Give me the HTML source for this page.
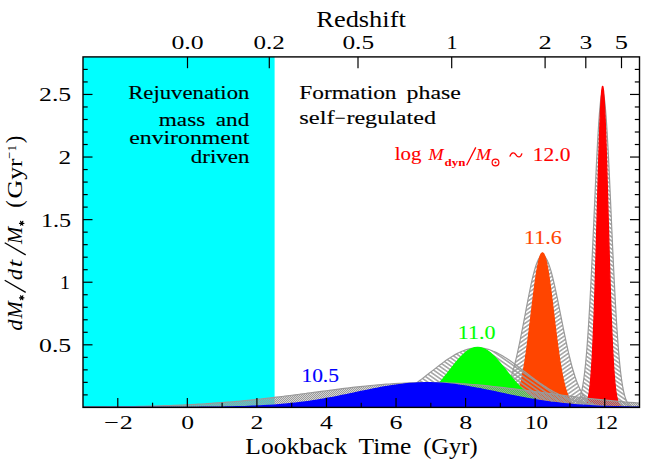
<!DOCTYPE html>
<html><head><meta charset="utf-8"><title>SFH</title>
<style>
html,body{margin:0;padding:0;background:#fff;}
body{width:664px;height:468px;overflow:hidden;font-family:"Liberation Serif",serif;}
svg{display:block;}
</style></head><body>
<svg width="664" height="468" viewBox="0 0 664 468">
<defs>
<pattern id="hA" width="8" height="3.3" patternUnits="userSpaceOnUse" patternTransform="rotate(35)"><line x1="-1" y1="1.65" x2="9" y2="1.65" stroke="#9a9a9a" stroke-width="1.4"/></pattern>
<pattern id="hB" width="8" height="3.3" patternUnits="userSpaceOnUse" patternTransform="rotate(-35)"><line x1="-1" y1="1.65" x2="9" y2="1.65" stroke="#9a9a9a" stroke-width="1.4"/></pattern>
<pattern id="hC" width="2" height="2" patternUnits="userSpaceOnUse"><rect x="0" y="0" width="2" height="2" fill="#9a9a9a" fill-opacity="0.42"/><rect x="0" y="0" width="1" height="1" fill="#9a9a9a"/><rect x="1" y="1" width="1" height="1" fill="#9a9a9a"/></pattern>
<clipPath id="frame"><rect x="83.00" y="56.90" width="556.50" height="350.50"/></clipPath>
</defs>
<rect x="0" y="0" width="664" height="468" fill="#ffffff"/>
<rect x="83.00" y="56.90" width="191.60" height="350.50" fill="#00ffff"/>
<g clip-path="url(#frame)">
<path d="M65.61,407.40 L70.83,407.40 L76.04,407.40 L81.26,407.40 L86.48,407.40 L91.70,407.40 L96.91,407.40 L102.13,407.40 L107.35,407.40 L112.56,407.40 L117.78,407.40 L123.00,407.40 L128.22,407.40 L133.43,407.40 L138.65,407.40 L143.87,407.40 L149.08,407.40 L154.30,407.40 L159.52,407.40 L164.74,407.40 L169.95,407.40 L175.17,407.40 L180.39,407.40 L185.60,407.40 L190.82,407.40 L196.04,407.40 L201.26,407.40 L206.47,407.40 L211.69,407.40 L216.91,407.40 L222.12,407.40 L227.34,407.40 L232.56,407.40 L237.78,407.40 L242.99,407.40 L248.21,407.40 L253.43,407.40 L258.65,407.40 L263.86,407.40 L269.08,407.40 L274.30,407.40 L279.51,407.40 L284.73,407.40 L289.95,407.40 L295.17,407.40 L300.38,407.40 L305.60,407.40 L310.82,407.40 L316.03,407.40 L321.25,407.40 L326.47,407.40 L331.69,407.40 L336.90,407.40 L342.12,407.40 L347.34,407.40 L352.55,407.40 L357.77,407.40 L362.99,407.40 L368.21,407.40 L373.42,407.40 L378.64,407.40 L383.86,407.40 L389.08,407.40 L394.29,407.40 L399.51,407.40 L404.73,407.40 L409.94,407.40 L415.16,407.40 L420.38,407.40 L425.60,407.40 L430.81,407.40 L436.03,407.40 L441.25,407.40 L446.46,407.40 L451.68,407.40 L456.90,407.40 L462.12,407.40 L467.33,407.40 L472.55,407.40 L477.77,407.40 L482.98,407.40 L488.20,407.40 L493.42,407.40 L498.64,407.40 L503.85,407.40 L509.07,407.40 L514.29,407.40 L519.50,407.40 L524.72,407.40 L529.94,407.40 L535.16,407.40 L540.37,407.40 L545.59,407.40 L550.81,407.40 L556.02,407.40 L559.68,407.40 L560.28,407.40 L560.88,407.40 L561.24,407.40 L561.48,407.40 L562.08,407.40 L562.68,407.39 L563.28,407.39 L563.88,407.39 L564.48,407.38 L565.09,407.38 L565.69,407.37 L566.29,407.36 L566.46,407.36 L566.89,407.35 L567.49,407.33 L568.09,407.30 L568.69,407.27 L569.29,407.23 L569.89,407.18 L570.49,407.11 L571.10,407.03 L571.68,406.92 L571.70,406.92 L572.30,406.78 L572.90,406.61 L573.50,406.40 L574.10,406.13 L574.70,405.80 L575.30,405.40 L575.90,404.91 L576.50,404.31 L576.89,403.85 L577.11,403.58 L577.70,402.72 L578.31,401.68 L578.91,400.44 L579.51,398.97 L580.11,397.26 L580.71,395.25 L581.31,392.90 L581.91,390.20 L582.11,389.22 L582.51,387.08 L583.11,383.54 L583.71,379.49 L584.32,374.92 L584.92,369.78 L585.52,364.07 L586.12,357.71 L586.72,350.68 L587.32,342.98 L587.33,342.89 L587.92,334.60 L588.52,325.58 L589.12,315.83 L589.72,305.42 L590.33,294.38 L590.92,282.83 L591.53,270.69 L592.13,258.10 L592.55,249.15 L592.73,245.15 L593.33,231.93 L593.93,218.65 L594.53,205.27 L595.13,192.00 L595.73,178.98 L596.33,166.43 L596.93,154.36 L597.54,142.98 L597.76,138.91 L598.14,132.44 L598.74,122.87 L599.34,114.47 L599.94,107.23 L600.54,101.32 L601.14,96.82 L601.74,93.81 L602.34,92.30 L602.63,92.13 L602.94,92.33 L602.98,92.38 L603.55,93.91 L604.15,97.00 L604.75,101.53 L605.35,107.50 L605.95,114.79 L606.55,123.29 L607.15,132.84 L607.75,143.42 L608.20,151.79 L608.35,154.83 L608.96,166.94 L609.56,179.58 L610.16,192.53 L610.76,205.81 L611.36,219.20 L611.96,232.55 L612.56,245.68 L613.16,258.61 L613.41,263.97 L613.76,271.19 L614.36,283.31 L614.97,294.90 L615.56,305.85 L616.17,316.24 L616.77,325.96 L617.37,335.00 L617.97,343.31 L618.57,350.98 L618.63,351.74 L619.17,357.98 L619.77,364.32 L620.37,370.03 L620.97,375.11 L621.57,379.66 L622.18,383.69 L622.78,387.23 L623.38,390.31 L623.85,392.46 L623.98,393.01 L624.58,395.33 L625.18,397.34 L625.78,399.05 L626.38,400.49 L626.98,401.72 L627.58,402.76 L628.19,403.62 L628.78,404.33 L629.07,404.63 L629.39,404.93 L629.99,405.42 L630.59,405.82 L631.19,406.14 L631.79,406.41 L632.39,406.62 L632.99,406.79 L633.59,406.92 L634.19,407.03 L634.28,407.04 L634.79,407.11 L635.40,407.18 L636.00,407.23 L636.60,407.27 L637.20,407.30 L637.80,407.33 L638.40,407.35 L639.00,407.36 L639.50,407.37 L639.60,407.37 L640.20,407.38 L640.80,407.38 L641.41,407.39 L642.01,407.39 L642.61,407.39 L643.21,407.40 L643.81,407.40 L644.41,407.40 L644.72,407.40 L645.01,407.40 L649.93,407.40 L655.15,407.40 L655.15,409.40 L65.61,409.40 Z" fill="url(#hA)"/>
<path d="M65.61,407.40 L70.83,407.40 L76.04,407.40 L81.26,407.40 L86.48,407.40 L91.70,407.40 L96.91,407.40 L102.13,407.40 L107.35,407.40 L112.56,407.40 L117.78,407.40 L123.00,407.40 L128.22,407.40 L133.43,407.40 L138.65,407.40 L143.87,407.40 L149.08,407.40 L154.30,407.40 L159.52,407.40 L164.74,407.40 L169.95,407.40 L175.17,407.40 L180.39,407.40 L185.60,407.40 L190.82,407.40 L196.04,407.40 L201.26,407.40 L206.47,407.40 L211.69,407.40 L216.91,407.40 L222.12,407.40 L227.34,407.40 L232.56,407.40 L237.78,407.40 L242.99,407.40 L248.21,407.40 L253.43,407.40 L258.65,407.40 L263.86,407.40 L269.08,407.40 L274.30,407.40 L279.51,407.40 L284.73,407.40 L289.95,407.40 L295.17,407.40 L300.38,407.40 L305.60,407.40 L310.82,407.40 L316.03,407.40 L321.25,407.40 L326.47,407.40 L331.69,407.40 L336.90,407.40 L342.12,407.40 L347.34,407.40 L352.55,407.40 L357.77,407.40 L362.99,407.40 L368.21,407.40 L373.42,407.40 L378.64,407.40 L383.86,407.40 L389.08,407.40 L394.29,407.40 L399.51,407.40 L404.73,407.40 L409.94,407.40 L415.16,407.40 L420.38,407.40 L425.60,407.40 L430.81,407.40 L436.03,407.40 L441.25,407.40 L446.46,407.40 L451.68,407.40 L456.90,407.40 L462.12,407.40 L467.33,407.40 L472.55,407.40 L477.77,407.40 L482.98,407.40 L488.20,407.40 L493.42,407.40 L498.64,407.40 L503.85,407.40 L509.07,407.40 L514.29,407.40 L519.50,407.40 L524.72,407.40 L529.94,407.40 L535.16,407.40 L540.37,407.40 L545.59,407.40 L550.81,407.40 L556.02,407.40 L559.68,407.40 L560.28,407.40 L560.88,407.40 L561.24,407.40 L561.48,407.40 L562.08,407.40 L562.68,407.39 L563.28,407.39 L563.88,407.39 L564.48,407.38 L565.09,407.38 L565.69,407.37 L566.29,407.36 L566.46,407.36 L566.89,407.35 L567.49,407.33 L568.09,407.30 L568.69,407.27 L569.29,407.23 L569.89,407.18 L570.49,407.11 L571.10,407.03 L571.68,406.92 L571.70,406.92 L572.30,406.78 L572.90,406.61 L573.50,406.40 L574.10,406.13 L574.70,405.80 L575.30,405.40 L575.90,404.91 L576.50,404.31 L576.89,403.85 L577.11,403.58 L577.70,402.72 L578.31,401.68 L578.91,400.44 L579.51,398.97 L580.11,397.26 L580.71,395.25 L581.31,392.90 L581.91,390.20 L582.11,389.22 L582.51,387.08 L583.11,383.54 L583.71,379.49 L584.32,374.92 L584.92,369.78 L585.52,364.07 L586.12,357.71 L586.72,350.68 L587.32,342.98 L587.33,342.89 L587.92,334.60 L588.52,325.58 L589.12,315.83 L589.72,305.42 L590.33,294.38 L590.92,282.83 L591.53,270.69 L592.13,258.10 L592.55,249.15 L592.73,245.15 L593.33,231.93 L593.93,218.65 L594.53,205.27 L595.13,192.00 L595.73,178.98 L596.33,166.43 L596.93,154.36 L597.54,142.98 L597.76,138.91 L598.14,132.44 L598.74,122.87 L599.34,114.47 L599.94,107.23 L600.54,101.32 L601.14,96.82 L601.74,93.81 L602.34,92.30 L602.63,92.13 L602.94,92.33 L602.98,92.38 L603.55,93.91 L604.15,97.00 L604.75,101.53 L605.35,107.50 L605.95,114.79 L606.55,123.29 L607.15,132.84 L607.75,143.42 L608.20,151.79 L608.35,154.83 L608.96,166.94 L609.56,179.58 L610.16,192.53 L610.76,205.81 L611.36,219.20 L611.96,232.55 L612.56,245.68 L613.16,258.61 L613.41,263.97 L613.76,271.19 L614.36,283.31 L614.97,294.90 L615.56,305.85 L616.17,316.24 L616.77,325.96 L617.37,335.00 L617.97,343.31 L618.57,350.98 L618.63,351.74 L619.17,357.98 L619.77,364.32 L620.37,370.03 L620.97,375.11 L621.57,379.66 L622.18,383.69 L622.78,387.23 L623.38,390.31 L623.85,392.46 L623.98,393.01 L624.58,395.33 L625.18,397.34 L625.78,399.05 L626.38,400.49 L626.98,401.72 L627.58,402.76 L628.19,403.62 L628.78,404.33 L629.07,404.63 L629.39,404.93 L629.99,405.42 L630.59,405.82 L631.19,406.14 L631.79,406.41 L632.39,406.62 L632.99,406.79 L633.59,406.92 L634.19,407.03 L634.28,407.04 L634.79,407.11 L635.40,407.18 L636.00,407.23 L636.60,407.27 L637.20,407.30 L637.80,407.33 L638.40,407.35 L639.00,407.36 L639.50,407.37 L639.60,407.37 L640.20,407.38 L640.80,407.38 L641.41,407.39 L642.01,407.39 L642.61,407.39 L643.21,407.40 L643.81,407.40 L644.41,407.40 L644.72,407.40 L645.01,407.40 L649.93,407.40 L655.15,407.40" fill="none" stroke="#9a9a9a" stroke-width="1.2" stroke-linejoin="round"/>
<path d="M65.61,407.40 L70.83,407.40 L76.04,407.40 L81.26,407.40 L86.48,407.40 L91.70,407.40 L96.91,407.40 L102.13,407.40 L107.35,407.40 L112.56,407.40 L117.78,407.40 L123.00,407.40 L128.22,407.40 L133.43,407.40 L138.65,407.40 L143.87,407.40 L149.08,407.40 L154.30,407.40 L159.52,407.40 L164.74,407.40 L169.95,407.40 L175.17,407.40 L180.39,407.40 L185.60,407.40 L190.82,407.40 L196.04,407.40 L201.26,407.40 L206.47,407.40 L211.69,407.40 L216.91,407.40 L222.12,407.40 L227.34,407.40 L232.56,407.40 L237.78,407.40 L242.99,407.40 L248.21,407.40 L253.43,407.40 L258.65,407.40 L263.86,407.40 L269.08,407.40 L274.30,407.40 L279.51,407.40 L284.73,407.40 L289.95,407.40 L295.17,407.40 L300.38,407.40 L305.60,407.40 L310.82,407.40 L316.03,407.40 L321.25,407.40 L326.47,407.40 L331.69,407.40 L336.90,407.40 L342.12,407.40 L347.34,407.40 L352.55,407.40 L357.77,407.40 L362.99,407.40 L368.21,407.40 L373.42,407.40 L378.64,407.40 L383.86,407.40 L389.08,407.40 L394.29,407.40 L399.51,407.40 L404.73,407.40 L409.94,407.40 L415.16,407.40 L420.38,407.40 L425.60,407.40 L430.81,407.40 L436.03,407.40 L441.25,407.40 L446.46,407.40 L451.68,407.40 L456.90,407.40 L462.12,407.40 L467.33,407.40 L472.55,407.40 L477.77,407.40 L482.98,407.40 L488.20,407.40 L493.42,407.40 L498.64,407.40 L503.85,407.40 L509.07,407.40 L514.29,407.40 L519.50,407.40 L524.72,407.40 L529.94,407.40 L535.16,407.40 L540.37,407.40 L545.59,407.40 L550.81,407.40 L556.02,407.40 L559.68,407.40 L560.28,407.40 L560.88,407.40 L561.24,407.40 L561.48,407.40 L562.08,407.40 L562.68,407.40 L563.28,407.40 L563.88,407.40 L564.48,407.40 L565.09,407.40 L565.69,407.40 L566.29,407.40 L566.46,407.40 L566.89,407.40 L567.49,407.40 L568.09,407.40 L568.69,407.40 L569.29,407.40 L569.89,407.40 L570.49,407.40 L571.10,407.40 L571.68,407.40 L571.70,407.40 L572.30,407.40 L572.90,407.40 L573.50,407.40 L574.10,407.40 L574.70,407.40 L575.30,407.40 L575.90,407.40 L576.50,407.40 L576.89,407.40 L577.11,407.40 L577.70,407.39 L578.31,407.39 L578.91,407.38 L579.51,407.37 L580.11,407.34 L580.71,407.31 L581.31,407.26 L581.91,407.19 L582.11,407.16 L582.51,407.08 L583.11,406.92 L583.71,406.69 L584.32,406.36 L584.92,405.90 L585.52,405.25 L586.12,404.37 L586.72,403.16 L587.32,401.56 L587.33,401.54 L587.92,399.45 L588.52,396.72 L589.12,393.21 L589.72,388.78 L590.33,383.27 L590.92,376.56 L591.53,368.40 L592.13,358.70 L592.55,350.99 L592.73,347.32 L593.33,334.20 L593.93,319.41 L594.53,302.81 L595.13,284.61 L595.73,265.01 L596.33,244.44 L596.93,223.04 L597.54,201.39 L597.76,193.31 L598.14,180.04 L598.74,159.56 L599.34,140.66 L599.94,123.73 L600.54,109.42 L601.14,98.25 L601.74,90.64 L602.34,86.77 L602.63,86.32 L602.94,86.85 L602.98,86.98 L603.55,90.88 L604.15,98.69 L604.75,109.95 L605.35,124.36 L605.95,141.40 L606.55,160.48 L607.15,180.89 L607.75,202.27 L608.20,218.29 L608.35,223.91 L608.96,245.29 L609.56,265.94 L610.16,285.37 L610.76,303.51 L611.36,320.04 L611.96,334.85 L612.56,347.81 L613.16,359.12 L613.41,363.38 L613.76,368.76 L614.36,376.86 L614.97,383.55 L615.56,388.98 L616.17,393.37 L616.77,396.85 L617.37,399.56 L617.97,401.63 L618.57,403.22 L618.63,403.36 L619.17,404.41 L619.77,405.28 L620.37,405.92 L620.97,406.38 L621.57,406.70 L622.18,406.93 L622.78,407.09 L623.38,407.19 L623.85,407.25 L623.98,407.27 L624.58,407.31 L625.18,407.35 L625.78,407.37 L626.38,407.38 L626.98,407.39 L627.58,407.39 L628.19,407.40 L628.78,407.40 L629.07,407.40 L629.39,407.40 L629.99,407.40 L630.59,407.40 L631.19,407.40 L631.79,407.40 L632.39,407.40 L632.99,407.40 L633.59,407.40 L634.19,407.40 L634.28,407.40 L634.79,407.40 L635.40,407.40 L636.00,407.40 L636.60,407.40 L637.20,407.40 L637.80,407.40 L638.40,407.40 L639.00,407.40 L639.50,407.40 L639.60,407.40 L640.20,407.40 L640.80,407.40 L641.41,407.40 L642.01,407.40 L642.61,407.40 L643.21,407.40 L643.81,407.40 L644.41,407.40 L644.72,407.40 L645.01,407.40 L649.93,407.40 L655.15,407.40 L655.15,409.40 L65.61,409.40 Z" fill="#ff0000" stroke="#ff0000" stroke-width="1.3" stroke-linejoin="round"/>
<path d="M65.61,407.40 L70.83,407.40 L76.04,407.40 L81.26,407.40 L86.48,407.40 L91.70,407.40 L96.91,407.40 L102.13,407.40 L107.35,407.40 L112.56,407.40 L117.78,407.40 L123.00,407.40 L128.22,407.40 L133.43,407.40 L138.65,407.40 L143.87,407.40 L149.08,407.40 L154.30,407.40 L159.52,407.40 L164.74,407.40 L169.95,407.40 L175.17,407.40 L180.39,407.40 L185.60,407.40 L190.82,407.40 L196.04,407.40 L201.26,407.40 L206.47,407.40 L211.69,407.40 L216.91,407.40 L222.12,407.40 L227.34,407.40 L232.56,407.40 L237.78,407.40 L242.99,407.40 L248.21,407.40 L253.43,407.40 L258.65,407.40 L263.86,407.40 L269.08,407.40 L274.30,407.40 L279.51,407.40 L284.73,407.40 L289.95,407.40 L295.17,407.40 L300.38,407.40 L305.60,407.40 L310.82,407.40 L316.03,407.40 L321.25,407.40 L326.47,407.40 L331.69,407.40 L336.90,407.40 L342.12,407.40 L347.34,407.40 L352.55,407.40 L357.77,407.40 L362.99,407.40 L368.21,407.40 L373.42,407.40 L378.64,407.40 L383.86,407.40 L389.08,407.40 L394.29,407.40 L399.51,407.40 L404.73,407.40 L409.94,407.40 L415.16,407.40 L420.38,407.40 L425.60,407.40 L430.81,407.40 L436.03,407.40 L441.25,407.40 L446.46,407.40 L451.33,407.40 L451.68,407.40 L452.58,407.40 L453.83,407.40 L455.08,407.40 L456.33,407.40 L456.90,407.40 L457.57,407.40 L458.82,407.40 L460.07,407.40 L461.32,407.40 L462.12,407.40 L462.57,407.40 L463.82,407.39 L465.07,407.39 L466.31,407.39 L467.33,407.39 L467.56,407.38 L468.81,407.38 L470.06,407.37 L471.30,407.36 L472.55,407.35 L472.55,407.35 L473.80,407.33 L475.05,407.31 L476.30,407.28 L477.55,407.25 L477.77,407.24 L478.80,407.20 L480.04,407.14 L481.29,407.07 L482.54,406.98 L482.98,406.94 L483.79,406.86 L485.04,406.72 L486.29,406.54 L487.53,406.32 L488.20,406.18 L488.78,406.05 L490.03,405.72 L491.28,405.33 L492.52,404.85 L493.42,404.46 L493.77,404.28 L495.02,403.60 L496.27,402.80 L497.52,401.86 L498.64,400.88 L498.77,400.76 L500.02,399.47 L501.27,397.99 L502.51,396.30 L503.76,394.36 L503.85,394.20 L505.01,392.16 L506.26,389.68 L507.51,386.90 L508.75,383.80 L509.07,382.96 L510.00,380.37 L511.25,376.61 L512.50,372.50 L513.74,368.06 L514.29,366.02 L514.99,363.26 L516.24,358.13 L517.49,352.69 L518.74,346.95 L519.50,343.30 L519.99,340.95 L521.24,334.73 L522.49,328.34 L523.73,321.81 L524.72,316.61 L524.98,315.25 L526.23,308.66 L527.48,302.14 L528.73,295.76 L529.94,289.77 L529.97,289.61 L531.22,283.74 L532.47,278.25 L533.72,273.20 L534.97,268.66 L535.16,268.03 L536.21,264.71 L537.46,261.39 L538.71,258.75 L539.96,256.84 L540.37,256.37 L541.21,255.67 L542.46,255.28 L542.46,255.28 L543.71,255.64 L544.95,256.70 L545.59,257.51 L546.20,258.46 L547.45,260.87 L548.70,263.93 L549.95,267.59 L550.81,270.43 L551.19,271.78 L552.44,276.47 L553.69,281.59 L554.94,287.07 L556.02,292.08 L556.19,292.86 L557.44,298.87 L558.68,305.04 L559.93,311.32 L561.18,317.64 L561.24,317.95 L562.43,323.93 L563.68,330.15 L564.93,336.24 L566.17,342.15 L566.46,343.48 L567.42,347.86 L568.67,353.32 L569.92,358.49 L571.17,363.39 L571.68,365.31 L572.41,367.99 L573.66,372.27 L574.91,376.23 L576.16,379.87 L576.89,381.87 L577.41,383.21 L578.66,386.23 L579.91,388.97 L581.15,391.42 L582.11,393.13 L582.40,393.62 L583.65,395.57 L584.90,397.29 L586.15,398.80 L587.33,400.05 L587.39,400.12 L588.64,401.26 L589.89,402.25 L591.14,403.10 L592.39,403.83 L592.55,403.91 L593.63,404.45 L594.88,404.97 L596.13,405.41 L597.38,405.78 L597.76,405.88 L598.63,406.08 L599.88,406.34 L601.13,406.54 L602.37,406.72 L602.98,406.79 L603.62,406.85 L604.87,406.97 L606.12,407.06 L607.37,407.13 L608.20,407.17 L608.61,407.19 L609.86,407.24 L611.11,407.27 L612.36,407.30 L613.41,407.32 L613.61,407.33 L614.85,407.34 L616.10,407.36 L617.35,407.37 L618.60,407.38 L618.63,407.38 L619.85,407.38 L621.10,407.39 L622.35,407.39 L623.59,407.39 L623.85,407.39 L624.84,407.39 L626.09,407.40 L627.34,407.40 L628.59,407.40 L629.07,407.40 L629.83,407.40 L631.08,407.40 L632.33,407.40 L633.58,407.40 L634.28,407.40 L639.50,407.40 L644.72,407.40 L649.93,407.40 L655.15,407.40 L655.15,409.40 L65.61,409.40 Z" fill="url(#hB)"/>
<path d="M65.61,407.40 L70.83,407.40 L76.04,407.40 L81.26,407.40 L86.48,407.40 L91.70,407.40 L96.91,407.40 L102.13,407.40 L107.35,407.40 L112.56,407.40 L117.78,407.40 L123.00,407.40 L128.22,407.40 L133.43,407.40 L138.65,407.40 L143.87,407.40 L149.08,407.40 L154.30,407.40 L159.52,407.40 L164.74,407.40 L169.95,407.40 L175.17,407.40 L180.39,407.40 L185.60,407.40 L190.82,407.40 L196.04,407.40 L201.26,407.40 L206.47,407.40 L211.69,407.40 L216.91,407.40 L222.12,407.40 L227.34,407.40 L232.56,407.40 L237.78,407.40 L242.99,407.40 L248.21,407.40 L253.43,407.40 L258.65,407.40 L263.86,407.40 L269.08,407.40 L274.30,407.40 L279.51,407.40 L284.73,407.40 L289.95,407.40 L295.17,407.40 L300.38,407.40 L305.60,407.40 L310.82,407.40 L316.03,407.40 L321.25,407.40 L326.47,407.40 L331.69,407.40 L336.90,407.40 L342.12,407.40 L347.34,407.40 L352.55,407.40 L357.77,407.40 L362.99,407.40 L368.21,407.40 L373.42,407.40 L378.64,407.40 L383.86,407.40 L389.08,407.40 L394.29,407.40 L399.51,407.40 L404.73,407.40 L409.94,407.40 L415.16,407.40 L420.38,407.40 L425.60,407.40 L430.81,407.40 L436.03,407.40 L441.25,407.40 L446.46,407.40 L451.33,407.40 L451.68,407.40 L452.58,407.40 L453.83,407.40 L455.08,407.40 L456.33,407.40 L456.90,407.40 L457.57,407.40 L458.82,407.40 L460.07,407.40 L461.32,407.40 L462.12,407.40 L462.57,407.40 L463.82,407.39 L465.07,407.39 L466.31,407.39 L467.33,407.39 L467.56,407.38 L468.81,407.38 L470.06,407.37 L471.30,407.36 L472.55,407.35 L472.55,407.35 L473.80,407.33 L475.05,407.31 L476.30,407.28 L477.55,407.25 L477.77,407.24 L478.80,407.20 L480.04,407.14 L481.29,407.07 L482.54,406.98 L482.98,406.94 L483.79,406.86 L485.04,406.72 L486.29,406.54 L487.53,406.32 L488.20,406.18 L488.78,406.05 L490.03,405.72 L491.28,405.33 L492.52,404.85 L493.42,404.46 L493.77,404.28 L495.02,403.60 L496.27,402.80 L497.52,401.86 L498.64,400.88 L498.77,400.76 L500.02,399.47 L501.27,397.99 L502.51,396.30 L503.76,394.36 L503.85,394.20 L505.01,392.16 L506.26,389.68 L507.51,386.90 L508.75,383.80 L509.07,382.96 L510.00,380.37 L511.25,376.61 L512.50,372.50 L513.74,368.06 L514.29,366.02 L514.99,363.26 L516.24,358.13 L517.49,352.69 L518.74,346.95 L519.50,343.30 L519.99,340.95 L521.24,334.73 L522.49,328.34 L523.73,321.81 L524.72,316.61 L524.98,315.25 L526.23,308.66 L527.48,302.14 L528.73,295.76 L529.94,289.77 L529.97,289.61 L531.22,283.74 L532.47,278.25 L533.72,273.20 L534.97,268.66 L535.16,268.03 L536.21,264.71 L537.46,261.39 L538.71,258.75 L539.96,256.84 L540.37,256.37 L541.21,255.67 L542.46,255.28 L542.46,255.28 L543.71,255.64 L544.95,256.70 L545.59,257.51 L546.20,258.46 L547.45,260.87 L548.70,263.93 L549.95,267.59 L550.81,270.43 L551.19,271.78 L552.44,276.47 L553.69,281.59 L554.94,287.07 L556.02,292.08 L556.19,292.86 L557.44,298.87 L558.68,305.04 L559.93,311.32 L561.18,317.64 L561.24,317.95 L562.43,323.93 L563.68,330.15 L564.93,336.24 L566.17,342.15 L566.46,343.48 L567.42,347.86 L568.67,353.32 L569.92,358.49 L571.17,363.39 L571.68,365.31 L572.41,367.99 L573.66,372.27 L574.91,376.23 L576.16,379.87 L576.89,381.87 L577.41,383.21 L578.66,386.23 L579.91,388.97 L581.15,391.42 L582.11,393.13 L582.40,393.62 L583.65,395.57 L584.90,397.29 L586.15,398.80 L587.33,400.05 L587.39,400.12 L588.64,401.26 L589.89,402.25 L591.14,403.10 L592.39,403.83 L592.55,403.91 L593.63,404.45 L594.88,404.97 L596.13,405.41 L597.38,405.78 L597.76,405.88 L598.63,406.08 L599.88,406.34 L601.13,406.54 L602.37,406.72 L602.98,406.79 L603.62,406.85 L604.87,406.97 L606.12,407.06 L607.37,407.13 L608.20,407.17 L608.61,407.19 L609.86,407.24 L611.11,407.27 L612.36,407.30 L613.41,407.32 L613.61,407.33 L614.85,407.34 L616.10,407.36 L617.35,407.37 L618.60,407.38 L618.63,407.38 L619.85,407.38 L621.10,407.39 L622.35,407.39 L623.59,407.39 L623.85,407.39 L624.84,407.39 L626.09,407.40 L627.34,407.40 L628.59,407.40 L629.07,407.40 L629.83,407.40 L631.08,407.40 L632.33,407.40 L633.58,407.40 L634.28,407.40 L639.50,407.40 L644.72,407.40 L649.93,407.40 L655.15,407.40" fill="none" stroke="#9a9a9a" stroke-width="1.2" stroke-linejoin="round"/>
<path d="M65.61,407.40 L70.83,407.40 L76.04,407.40 L81.26,407.40 L86.48,407.40 L91.70,407.40 L96.91,407.40 L102.13,407.40 L107.35,407.40 L112.56,407.40 L117.78,407.40 L123.00,407.40 L128.22,407.40 L133.43,407.40 L138.65,407.40 L143.87,407.40 L149.08,407.40 L154.30,407.40 L159.52,407.40 L164.74,407.40 L169.95,407.40 L175.17,407.40 L180.39,407.40 L185.60,407.40 L190.82,407.40 L196.04,407.40 L201.26,407.40 L206.47,407.40 L211.69,407.40 L216.91,407.40 L222.12,407.40 L227.34,407.40 L232.56,407.40 L237.78,407.40 L242.99,407.40 L248.21,407.40 L253.43,407.40 L258.65,407.40 L263.86,407.40 L269.08,407.40 L274.30,407.40 L279.51,407.40 L284.73,407.40 L289.95,407.40 L295.17,407.40 L300.38,407.40 L305.60,407.40 L310.82,407.40 L316.03,407.40 L321.25,407.40 L326.47,407.40 L331.69,407.40 L336.90,407.40 L342.12,407.40 L347.34,407.40 L352.55,407.40 L357.77,407.40 L362.99,407.40 L368.21,407.40 L373.42,407.40 L378.64,407.40 L383.86,407.40 L389.08,407.40 L394.29,407.40 L399.51,407.40 L404.73,407.40 L409.94,407.40 L415.16,407.40 L420.38,407.40 L425.60,407.40 L430.81,407.40 L436.03,407.40 L441.25,407.40 L446.46,407.40 L451.33,407.40 L451.68,407.40 L452.58,407.40 L453.83,407.40 L455.08,407.40 L456.33,407.40 L456.90,407.40 L457.57,407.40 L458.82,407.40 L460.07,407.40 L461.32,407.40 L462.12,407.40 L462.57,407.40 L463.82,407.40 L465.07,407.40 L466.31,407.40 L467.33,407.40 L467.56,407.40 L468.81,407.40 L470.06,407.40 L471.30,407.40 L472.55,407.40 L472.55,407.40 L473.80,407.40 L475.05,407.40 L476.30,407.40 L477.55,407.40 L477.77,407.40 L478.80,407.40 L480.04,407.40 L481.29,407.40 L482.54,407.40 L482.98,407.40 L483.79,407.40 L485.04,407.40 L486.29,407.40 L487.53,407.40 L488.20,407.40 L488.78,407.40 L490.03,407.40 L491.28,407.40 L492.52,407.39 L493.42,407.39 L493.77,407.39 L495.02,407.38 L496.27,407.37 L497.52,407.35 L498.64,407.32 L498.77,407.32 L500.02,407.28 L501.27,407.21 L502.51,407.12 L503.76,406.99 L503.85,406.98 L505.01,406.80 L506.26,406.54 L507.51,406.18 L508.75,405.68 L509.07,405.53 L510.00,405.02 L511.25,404.14 L512.50,402.99 L513.74,401.50 L514.29,400.74 L514.99,399.62 L516.24,397.25 L517.49,394.32 L518.74,390.76 L519.50,388.23 L519.99,386.49 L521.24,381.45 L522.49,375.58 L523.73,368.86 L524.72,362.95 L524.98,361.33 L526.23,352.97 L527.48,343.88 L528.73,334.18 L529.94,324.33 L529.97,324.04 L531.22,313.66 L532.47,303.28 L533.72,293.18 L534.97,283.63 L535.16,282.26 L536.21,274.95 L537.46,267.37 L538.71,261.18 L539.96,256.59 L540.37,255.45 L541.21,253.76 L542.46,252.80 L542.46,252.80 L543.71,253.75 L544.95,256.57 L545.59,258.69 L546.20,261.15 L547.45,267.31 L548.70,274.88 L549.95,283.58 L550.81,290.10 L551.19,293.12 L552.44,303.23 L553.69,313.60 L554.94,323.98 L556.02,332.82 L556.19,334.13 L557.44,343.83 L558.68,352.89 L559.93,361.26 L561.18,368.82 L561.24,369.18 L562.43,375.54 L563.68,381.42 L564.93,386.46 L566.17,390.74 L566.46,391.61 L567.42,394.31 L568.67,397.23 L569.92,399.60 L571.17,401.49 L571.68,402.14 L572.41,402.98 L573.66,404.13 L574.91,405.02 L576.16,405.68 L576.89,405.99 L577.41,406.18 L578.66,406.54 L579.91,406.80 L581.15,406.99 L582.11,407.10 L582.40,407.12 L583.65,407.21 L584.90,407.28 L586.15,407.32 L587.33,407.35 L587.39,407.35 L588.64,407.37 L589.89,407.38 L591.14,407.39 L592.39,407.39 L592.55,407.39 L593.63,407.40 L594.88,407.40 L596.13,407.40 L597.38,407.40 L597.76,407.40 L598.63,407.40 L599.88,407.40 L601.13,407.40 L602.37,407.40 L602.98,407.40 L603.62,407.40 L604.87,407.40 L606.12,407.40 L607.37,407.40 L608.20,407.40 L608.61,407.40 L609.86,407.40 L611.11,407.40 L612.36,407.40 L613.41,407.40 L613.61,407.40 L614.85,407.40 L616.10,407.40 L617.35,407.40 L618.60,407.40 L618.63,407.40 L619.85,407.40 L621.10,407.40 L622.35,407.40 L623.59,407.40 L623.85,407.40 L624.84,407.40 L626.09,407.40 L627.34,407.40 L628.59,407.40 L629.07,407.40 L629.83,407.40 L631.08,407.40 L632.33,407.40 L633.58,407.40 L634.28,407.40 L639.50,407.40 L644.72,407.40 L649.93,407.40 L655.15,407.40 L655.15,409.40 L65.61,409.40 Z" fill="#ff4500" stroke="#ff4500" stroke-width="1.3" stroke-linejoin="round"/>
<path d="M65.61,407.40 L70.83,407.40 L76.04,407.40 L81.26,407.40 L86.48,407.40 L91.70,407.40 L96.91,407.40 L102.13,407.40 L107.35,407.40 L112.56,407.40 L117.78,407.40 L123.00,407.40 L128.22,407.40 L133.43,407.40 L138.65,407.40 L143.87,407.40 L149.08,407.40 L154.30,407.40 L159.52,407.40 L164.74,407.40 L169.95,407.40 L175.17,407.40 L180.39,407.40 L185.60,407.40 L190.82,407.40 L196.04,407.40 L201.26,407.40 L206.47,407.40 L211.69,407.40 L216.91,407.40 L222.12,407.40 L227.34,407.40 L232.56,407.40 L237.78,407.40 L242.99,407.40 L244.56,407.40 L247.71,407.40 L248.21,407.40 L250.86,407.40 L253.43,407.40 L254.01,407.40 L257.16,407.40 L258.65,407.40 L260.31,407.40 L263.46,407.40 L263.86,407.40 L266.61,407.40 L269.08,407.40 L269.75,407.40 L272.91,407.40 L274.30,407.40 L276.06,407.40 L279.20,407.39 L279.51,407.39 L282.36,407.39 L284.73,407.39 L285.50,407.39 L288.65,407.39 L289.95,407.39 L291.80,407.38 L294.95,407.38 L295.17,407.38 L298.10,407.37 L300.38,407.37 L301.25,407.36 L304.40,407.35 L305.60,407.35 L307.55,407.34 L310.70,407.32 L310.82,407.32 L313.85,407.30 L316.03,407.28 L317.00,407.27 L320.15,407.23 L321.25,407.22 L323.30,407.19 L326.45,407.14 L326.47,407.14 L329.60,407.07 L331.69,407.02 L332.75,406.99 L335.90,406.89 L336.90,406.86 L339.05,406.77 L342.12,406.63 L342.20,406.63 L345.35,406.46 L347.34,406.34 L348.50,406.26 L351.65,406.02 L352.55,405.94 L354.79,405.74 L357.77,405.43 L357.95,405.41 L361.10,405.02 L362.99,404.76 L364.24,404.58 L367.40,404.06 L368.21,403.92 L370.54,403.47 L373.42,402.86 L373.69,402.80 L376.84,402.04 L378.64,401.57 L379.99,401.19 L383.14,400.23 L383.86,400.00 L386.29,399.16 L389.08,398.13 L389.44,397.98 L392.59,396.68 L394.29,395.93 L395.74,395.26 L398.89,393.71 L399.51,393.39 L402.04,392.04 L404.73,390.51 L405.19,390.24 L408.34,388.33 L409.94,387.31 L411.49,386.30 L414.64,384.16 L415.16,383.80 L417.79,381.93 L420.38,380.03 L420.94,379.61 L424.09,377.23 L425.60,376.07 L427.24,374.80 L430.39,372.33 L430.81,372.00 L433.54,369.86 L436.03,367.91 L436.69,367.39 L439.83,364.97 L441.25,363.91 L442.99,362.62 L446.14,360.35 L446.46,360.12 L449.28,358.20 L451.68,356.66 L452.44,356.20 L455.58,354.36 L456.90,353.65 L458.73,352.72 L461.88,351.29 L462.12,351.19 L465.03,350.09 L467.33,349.37 L468.18,349.14 L471.33,348.45 L472.55,348.26 L474.48,348.04 L477.59,347.90 L477.63,347.90 L477.77,347.90 L480.78,348.04 L482.98,348.30 L483.93,348.45 L487.08,349.12 L488.20,349.42 L490.23,350.05 L493.38,351.22 L493.42,351.24 L496.53,352.62 L498.64,353.67 L499.68,354.22 L502.83,356.02 L503.85,356.64 L505.98,357.97 L509.07,360.04 L509.13,360.08 L512.28,362.29 L514.29,363.76 L515.43,364.60 L518.58,366.98 L519.50,367.69 L521.73,369.40 L524.72,371.72 L524.87,371.84 L528.03,374.27 L529.94,375.73 L531.18,376.68 L534.32,379.04 L535.16,379.65 L537.48,381.34 L540.37,383.38 L540.62,383.56 L543.78,385.69 L545.59,386.87 L546.92,387.72 L550.07,389.64 L550.81,390.08 L553.22,391.45 L556.02,392.96 L556.37,393.14 L559.52,394.71 L561.24,395.51 L562.67,396.16 L565.82,397.48 L566.46,397.74 L568.97,398.69 L571.68,399.64 L572.12,399.79 L575.27,400.78 L576.89,401.25 L578.42,401.67 L581.57,402.46 L582.11,402.59 L584.72,403.16 L587.33,403.68 L587.87,403.78 L591.02,404.32 L592.55,404.56 L594.17,404.79 L597.32,405.20 L597.76,405.26 L600.47,405.56 L602.98,405.80 L603.62,405.86 L606.77,406.12 L608.20,406.23 L609.92,406.34 L613.07,406.53 L613.41,406.55 L616.22,406.69 L618.63,406.79 L619.37,406.82 L622.52,406.93 L623.85,406.97 L625.66,407.02 L628.82,407.09 L629.07,407.10 L631.96,407.15 L634.28,407.19 L635.11,407.20 L638.26,407.24 L639.50,407.26 L641.41,407.28 L644.56,407.30 L644.72,407.30 L647.71,407.32 L649.93,407.34 L650.86,407.34 L654.01,407.35 L655.15,407.36 L655.15,409.40 L65.61,409.40 Z" fill="url(#hA)"/>
<path d="M65.61,407.40 L70.83,407.40 L76.04,407.40 L81.26,407.40 L86.48,407.40 L91.70,407.40 L96.91,407.40 L102.13,407.40 L107.35,407.40 L112.56,407.40 L117.78,407.40 L123.00,407.40 L128.22,407.40 L133.43,407.40 L138.65,407.40 L143.87,407.40 L149.08,407.40 L154.30,407.40 L159.52,407.40 L164.74,407.40 L169.95,407.40 L175.17,407.40 L180.39,407.40 L185.60,407.40 L190.82,407.40 L196.04,407.40 L201.26,407.40 L206.47,407.40 L211.69,407.40 L216.91,407.40 L222.12,407.40 L227.34,407.40 L232.56,407.40 L237.78,407.40 L242.99,407.40 L244.56,407.40 L247.71,407.40 L248.21,407.40 L250.86,407.40 L253.43,407.40 L254.01,407.40 L257.16,407.40 L258.65,407.40 L260.31,407.40 L263.46,407.40 L263.86,407.40 L266.61,407.40 L269.08,407.40 L269.75,407.40 L272.91,407.40 L274.30,407.40 L276.06,407.40 L279.20,407.39 L279.51,407.39 L282.36,407.39 L284.73,407.39 L285.50,407.39 L288.65,407.39 L289.95,407.39 L291.80,407.38 L294.95,407.38 L295.17,407.38 L298.10,407.37 L300.38,407.37 L301.25,407.36 L304.40,407.35 L305.60,407.35 L307.55,407.34 L310.70,407.32 L310.82,407.32 L313.85,407.30 L316.03,407.28 L317.00,407.27 L320.15,407.23 L321.25,407.22 L323.30,407.19 L326.45,407.14 L326.47,407.14 L329.60,407.07 L331.69,407.02 L332.75,406.99 L335.90,406.89 L336.90,406.86 L339.05,406.77 L342.12,406.63 L342.20,406.63 L345.35,406.46 L347.34,406.34 L348.50,406.26 L351.65,406.02 L352.55,405.94 L354.79,405.74 L357.77,405.43 L357.95,405.41 L361.10,405.02 L362.99,404.76 L364.24,404.58 L367.40,404.06 L368.21,403.92 L370.54,403.47 L373.42,402.86 L373.69,402.80 L376.84,402.04 L378.64,401.57 L379.99,401.19 L383.14,400.23 L383.86,400.00 L386.29,399.16 L389.08,398.13 L389.44,397.98 L392.59,396.68 L394.29,395.93 L395.74,395.26 L398.89,393.71 L399.51,393.39 L402.04,392.04 L404.73,390.51 L405.19,390.24 L408.34,388.33 L409.94,387.31 L411.49,386.30 L414.64,384.16 L415.16,383.80 L417.79,381.93 L420.38,380.03 L420.94,379.61 L424.09,377.23 L425.60,376.07 L427.24,374.80 L430.39,372.33 L430.81,372.00 L433.54,369.86 L436.03,367.91 L436.69,367.39 L439.83,364.97 L441.25,363.91 L442.99,362.62 L446.14,360.35 L446.46,360.12 L449.28,358.20 L451.68,356.66 L452.44,356.20 L455.58,354.36 L456.90,353.65 L458.73,352.72 L461.88,351.29 L462.12,351.19 L465.03,350.09 L467.33,349.37 L468.18,349.14 L471.33,348.45 L472.55,348.26 L474.48,348.04 L477.59,347.90 L477.63,347.90 L477.77,347.90 L480.78,348.04 L482.98,348.30 L483.93,348.45 L487.08,349.12 L488.20,349.42 L490.23,350.05 L493.38,351.22 L493.42,351.24 L496.53,352.62 L498.64,353.67 L499.68,354.22 L502.83,356.02 L503.85,356.64 L505.98,357.97 L509.07,360.04 L509.13,360.08 L512.28,362.29 L514.29,363.76 L515.43,364.60 L518.58,366.98 L519.50,367.69 L521.73,369.40 L524.72,371.72 L524.87,371.84 L528.03,374.27 L529.94,375.73 L531.18,376.68 L534.32,379.04 L535.16,379.65 L537.48,381.34 L540.37,383.38 L540.62,383.56 L543.78,385.69 L545.59,386.87 L546.92,387.72 L550.07,389.64 L550.81,390.08 L553.22,391.45 L556.02,392.96 L556.37,393.14 L559.52,394.71 L561.24,395.51 L562.67,396.16 L565.82,397.48 L566.46,397.74 L568.97,398.69 L571.68,399.64 L572.12,399.79 L575.27,400.78 L576.89,401.25 L578.42,401.67 L581.57,402.46 L582.11,402.59 L584.72,403.16 L587.33,403.68 L587.87,403.78 L591.02,404.32 L592.55,404.56 L594.17,404.79 L597.32,405.20 L597.76,405.26 L600.47,405.56 L602.98,405.80 L603.62,405.86 L606.77,406.12 L608.20,406.23 L609.92,406.34 L613.07,406.53 L613.41,406.55 L616.22,406.69 L618.63,406.79 L619.37,406.82 L622.52,406.93 L623.85,406.97 L625.66,407.02 L628.82,407.09 L629.07,407.10 L631.96,407.15 L634.28,407.19 L635.11,407.20 L638.26,407.24 L639.50,407.26 L641.41,407.28 L644.56,407.30 L644.72,407.30 L647.71,407.32 L649.93,407.34 L650.86,407.34 L654.01,407.35 L655.15,407.36" fill="none" stroke="#9a9a9a" stroke-width="1.2" stroke-linejoin="round"/>
<path d="M65.61,407.40 L70.83,407.40 L76.04,407.40 L81.26,407.40 L86.48,407.40 L91.70,407.40 L96.91,407.40 L102.13,407.40 L107.35,407.40 L112.56,407.40 L117.78,407.40 L123.00,407.40 L128.22,407.40 L133.43,407.40 L138.65,407.40 L143.87,407.40 L149.08,407.40 L154.30,407.40 L159.52,407.40 L164.74,407.40 L169.95,407.40 L175.17,407.40 L180.39,407.40 L185.60,407.40 L190.82,407.40 L196.04,407.40 L201.26,407.40 L206.47,407.40 L211.69,407.40 L216.91,407.40 L222.12,407.40 L227.34,407.40 L232.56,407.40 L237.78,407.40 L242.99,407.40 L244.56,407.40 L247.71,407.40 L248.21,407.40 L250.86,407.40 L253.43,407.40 L254.01,407.40 L257.16,407.40 L258.65,407.40 L260.31,407.40 L263.46,407.40 L263.86,407.40 L266.61,407.40 L269.08,407.40 L269.75,407.40 L272.91,407.40 L274.30,407.40 L276.06,407.40 L279.20,407.40 L279.51,407.40 L282.36,407.40 L284.73,407.40 L285.50,407.40 L288.65,407.40 L289.95,407.40 L291.80,407.40 L294.95,407.40 L295.17,407.40 L298.10,407.40 L300.38,407.40 L301.25,407.40 L304.40,407.40 L305.60,407.40 L307.55,407.40 L310.70,407.40 L310.82,407.40 L313.85,407.40 L316.03,407.40 L317.00,407.40 L320.15,407.40 L321.25,407.40 L323.30,407.40 L326.45,407.40 L326.47,407.40 L329.60,407.40 L331.69,407.40 L332.75,407.40 L335.90,407.40 L336.90,407.40 L339.05,407.40 L342.12,407.40 L342.20,407.40 L345.35,407.40 L347.34,407.40 L348.50,407.40 L351.65,407.40 L352.55,407.40 L354.79,407.39 L357.77,407.39 L357.95,407.39 L361.10,407.39 L362.99,407.38 L364.24,407.38 L367.40,407.37 L368.21,407.36 L370.54,407.35 L373.42,407.33 L373.69,407.33 L376.84,407.29 L378.64,407.26 L379.99,407.24 L383.14,407.17 L383.86,407.15 L386.29,407.06 L389.08,406.94 L389.44,406.92 L392.59,406.73 L394.29,406.60 L395.74,406.47 L398.89,406.13 L399.51,406.05 L402.04,405.68 L404.73,405.19 L405.19,405.10 L408.34,404.36 L409.94,403.92 L411.49,403.44 L414.64,402.30 L415.16,402.09 L417.79,400.91 L420.38,399.56 L420.94,399.25 L424.09,397.28 L425.60,396.23 L427.24,395.00 L430.39,392.38 L430.81,392.01 L433.54,389.44 L436.03,386.89 L436.69,386.19 L439.83,382.65 L441.25,380.99 L442.99,378.88 L446.14,374.94 L446.46,374.52 L449.28,370.91 L451.68,367.83 L452.44,366.87 L455.58,362.95 L456.90,361.37 L458.73,359.24 L461.88,355.87 L462.12,355.64 L465.03,352.93 L467.33,351.12 L468.18,350.54 L471.33,348.76 L472.55,348.26 L474.48,347.67 L477.59,347.31 L477.63,347.31 L477.77,347.32 L480.78,347.68 L482.98,348.35 L483.93,348.74 L487.08,350.47 L488.20,351.24 L490.23,352.80 L493.38,355.66 L493.42,355.70 L496.53,358.94 L498.64,361.33 L499.68,362.56 L502.83,366.40 L503.85,367.67 L505.98,370.35 L509.07,374.24 L509.13,374.31 L512.28,378.20 L514.29,380.61 L515.43,381.94 L518.58,385.46 L519.50,386.45 L521.73,388.73 L524.72,391.55 L524.87,391.69 L528.03,394.34 L529.94,395.79 L531.18,396.67 L534.32,398.69 L535.16,399.17 L537.48,400.41 L540.37,401.75 L540.62,401.86 L543.78,403.06 L545.59,403.65 L546.92,404.04 L550.07,404.83 L550.81,404.99 L553.22,405.46 L556.02,405.90 L556.37,405.95 L559.52,406.33 L561.24,406.50 L562.67,406.62 L565.82,406.84 L566.46,406.87 L568.97,407.00 L571.68,407.10 L572.12,407.12 L575.27,407.20 L576.89,407.24 L578.42,407.27 L581.57,407.31 L582.11,407.31 L584.72,407.34 L587.33,407.36 L587.87,407.36 L591.02,407.37 L592.55,407.38 L594.17,407.38 L597.32,407.39 L597.76,407.39 L600.47,407.39 L602.98,407.40 L603.62,407.40 L606.77,407.40 L608.20,407.40 L609.92,407.40 L613.07,407.40 L613.41,407.40 L616.22,407.40 L618.63,407.40 L619.37,407.40 L622.52,407.40 L623.85,407.40 L625.66,407.40 L628.82,407.40 L629.07,407.40 L631.96,407.40 L634.28,407.40 L635.11,407.40 L638.26,407.40 L639.50,407.40 L641.41,407.40 L644.56,407.40 L644.72,407.40 L647.71,407.40 L649.93,407.40 L650.86,407.40 L654.01,407.40 L655.15,407.40 L655.15,409.40 L65.61,409.40 Z" fill="#00ff00" stroke="#00ff00" stroke-width="1.3" stroke-linejoin="round"/>
<path d="M65.61,407.25 L70.83,407.22 L72.22,407.22 L76.04,407.20 L80.06,407.17 L81.26,407.16 L86.48,407.13 L87.91,407.12 L91.70,407.09 L95.75,407.06 L96.91,407.05 L102.13,406.99 L103.60,406.98 L107.35,406.94 L111.44,406.89 L112.56,406.87 L117.78,406.80 L119.29,406.78 L123.00,406.72 L127.13,406.66 L128.22,406.64 L133.43,406.54 L134.98,406.51 L138.65,406.43 L142.82,406.34 L143.87,406.31 L149.08,406.18 L150.67,406.14 L154.30,406.04 L158.51,405.91 L159.52,405.88 L164.74,405.70 L166.36,405.65 L169.95,405.52 L174.20,405.35 L175.17,405.31 L180.39,405.09 L182.05,405.01 L185.60,404.85 L189.89,404.63 L190.82,404.59 L196.04,404.31 L197.74,404.21 L201.26,404.01 L205.58,403.74 L206.47,403.68 L211.69,403.34 L213.43,403.22 L216.91,402.97 L221.28,402.65 L222.12,402.58 L227.34,402.17 L229.12,402.02 L232.56,401.73 L236.97,401.35 L237.78,401.27 L242.99,400.79 L244.81,400.62 L248.21,400.28 L252.66,399.84 L253.43,399.76 L258.65,399.21 L260.50,399.01 L263.86,398.63 L268.35,398.13 L269.08,398.04 L274.30,397.43 L276.19,397.21 L279.51,396.81 L284.04,396.25 L284.73,396.16 L289.95,395.51 L291.88,395.26 L295.17,394.84 L299.73,394.25 L300.38,394.16 L305.60,393.47 L307.57,393.21 L310.82,392.78 L315.42,392.18 L316.03,392.09 L321.25,391.40 L323.26,391.14 L326.47,390.72 L331.11,390.11 L331.69,390.04 L336.90,389.37 L338.95,389.11 L342.12,388.72 L346.79,388.14 L347.34,388.08 L352.55,387.46 L354.64,387.22 L357.77,386.87 L362.49,386.36 L362.99,386.31 L368.21,385.77 L370.33,385.56 L373.42,385.27 L378.18,384.84 L378.64,384.80 L383.86,384.38 L386.02,384.21 L389.08,383.99 L393.87,383.68 L394.29,383.65 L399.51,383.35 L401.71,383.24 L404.73,383.11 L409.56,382.92 L409.94,382.91 L415.16,382.76 L417.40,382.71 L420.38,382.67 L425.25,382.62 L425.60,382.62 L427.33,382.62 L430.81,382.63 L433.09,382.65 L436.03,382.69 L440.94,382.80 L441.25,382.81 L446.46,382.97 L448.78,383.06 L451.68,383.18 L456.63,383.43 L456.90,383.45 L462.12,383.76 L464.47,383.91 L467.33,384.11 L472.32,384.49 L472.55,384.51 L477.77,384.95 L480.16,385.17 L482.98,385.43 L488.01,385.93 L488.20,385.94 L493.42,386.49 L495.85,386.76 L498.64,387.07 L503.70,387.65 L503.85,387.67 L509.07,388.29 L511.54,388.59 L514.29,388.93 L519.39,389.58 L519.50,389.59 L524.72,390.26 L527.23,390.59 L529.94,390.95 L535.08,391.62 L535.16,391.63 L540.37,392.32 L542.92,392.66 L545.59,393.02 L550.77,393.70 L550.81,393.70 L556.02,394.39 L558.61,394.72 L561.24,395.06 L566.46,395.73 L571.68,396.38 L574.31,396.70 L576.89,397.02 L582.11,397.64 L582.15,397.64 L587.33,398.24 L590.00,398.54 L592.55,398.83 L597.76,399.39 L597.84,399.40 L602.98,399.93 L605.69,400.21 L608.20,400.46 L613.41,400.95 L613.53,400.96 L618.63,401.43 L621.38,401.67 L623.85,401.88 L629.07,402.31 L629.22,402.32 L634.28,402.71 L637.07,402.92 L639.50,403.10 L644.72,403.46 L644.91,403.47 L649.93,403.79 L652.76,403.97 L655.15,404.11 L655.15,409.40 L65.61,409.40 Z" fill="url(#hC)"/>
<path d="M65.61,407.25 L70.83,407.22 L72.22,407.22 L76.04,407.20 L80.06,407.17 L81.26,407.16 L86.48,407.13 L87.91,407.12 L91.70,407.09 L95.75,407.06 L96.91,407.05 L102.13,406.99 L103.60,406.98 L107.35,406.94 L111.44,406.89 L112.56,406.87 L117.78,406.80 L119.29,406.78 L123.00,406.72 L127.13,406.66 L128.22,406.64 L133.43,406.54 L134.98,406.51 L138.65,406.43 L142.82,406.34 L143.87,406.31 L149.08,406.18 L150.67,406.14 L154.30,406.04 L158.51,405.91 L159.52,405.88 L164.74,405.70 L166.36,405.65 L169.95,405.52 L174.20,405.35 L175.17,405.31 L180.39,405.09 L182.05,405.01 L185.60,404.85 L189.89,404.63 L190.82,404.59 L196.04,404.31 L197.74,404.21 L201.26,404.01 L205.58,403.74 L206.47,403.68 L211.69,403.34 L213.43,403.22 L216.91,402.97 L221.28,402.65 L222.12,402.58 L227.34,402.17 L229.12,402.02 L232.56,401.73 L236.97,401.35 L237.78,401.27 L242.99,400.79 L244.81,400.62 L248.21,400.28 L252.66,399.84 L253.43,399.76 L258.65,399.21 L260.50,399.01 L263.86,398.63 L268.35,398.13 L269.08,398.04 L274.30,397.43 L276.19,397.21 L279.51,396.81 L284.04,396.25 L284.73,396.16 L289.95,395.51 L291.88,395.26 L295.17,394.84 L299.73,394.25 L300.38,394.16 L305.60,393.47 L307.57,393.21 L310.82,392.78 L315.42,392.18 L316.03,392.09 L321.25,391.40 L323.26,391.14 L326.47,390.72 L331.11,390.11 L331.69,390.04 L336.90,389.37 L338.95,389.11 L342.12,388.72 L346.79,388.14 L347.34,388.08 L352.55,387.46 L354.64,387.22 L357.77,386.87 L362.49,386.36 L362.99,386.31 L368.21,385.77 L370.33,385.56 L373.42,385.27 L378.18,384.84 L378.64,384.80 L383.86,384.38 L386.02,384.21 L389.08,383.99 L393.87,383.68 L394.29,383.65 L399.51,383.35 L401.71,383.24 L404.73,383.11 L409.56,382.92 L409.94,382.91 L415.16,382.76 L417.40,382.71 L420.38,382.67 L425.25,382.62 L425.60,382.62 L427.33,382.62 L430.81,382.63 L433.09,382.65 L436.03,382.69 L440.94,382.80 L441.25,382.81 L446.46,382.97 L448.78,383.06 L451.68,383.18 L456.63,383.43 L456.90,383.45 L462.12,383.76 L464.47,383.91 L467.33,384.11 L472.32,384.49 L472.55,384.51 L477.77,384.95 L480.16,385.17 L482.98,385.43 L488.01,385.93 L488.20,385.94 L493.42,386.49 L495.85,386.76 L498.64,387.07 L503.70,387.65 L503.85,387.67 L509.07,388.29 L511.54,388.59 L514.29,388.93 L519.39,389.58 L519.50,389.59 L524.72,390.26 L527.23,390.59 L529.94,390.95 L535.08,391.62 L535.16,391.63 L540.37,392.32 L542.92,392.66 L545.59,393.02 L550.77,393.70 L550.81,393.70 L556.02,394.39 L558.61,394.72 L561.24,395.06 L566.46,395.73 L571.68,396.38 L574.31,396.70 L576.89,397.02 L582.11,397.64 L582.15,397.64 L587.33,398.24 L590.00,398.54 L592.55,398.83 L597.76,399.39 L597.84,399.40 L602.98,399.93 L605.69,400.21 L608.20,400.46 L613.41,400.95 L613.53,400.96 L618.63,401.43 L621.38,401.67 L623.85,401.88 L629.07,402.31 L629.22,402.32 L634.28,402.71 L637.07,402.92 L639.50,403.10 L644.72,403.46 L644.91,403.47 L649.93,403.79 L652.76,403.97 L655.15,404.11" fill="none" stroke="#9a9a9a" stroke-width="1.2" stroke-linejoin="round"/>
<path d="M65.61,407.40 L70.83,407.40 L72.22,407.40 L76.04,407.40 L80.06,407.40 L81.26,407.40 L86.48,407.40 L87.91,407.40 L91.70,407.40 L95.75,407.40 L96.91,407.40 L102.13,407.40 L103.60,407.40 L107.35,407.40 L111.44,407.40 L112.56,407.40 L117.78,407.40 L119.29,407.40 L123.00,407.40 L127.13,407.40 L128.22,407.40 L133.43,407.40 L134.98,407.40 L138.65,407.39 L142.82,407.39 L143.87,407.39 L149.08,407.39 L150.67,407.39 L154.30,407.39 L158.51,407.38 L159.52,407.38 L164.74,407.38 L166.36,407.37 L169.95,407.37 L174.20,407.36 L175.17,407.36 L180.39,407.35 L182.05,407.34 L185.60,407.33 L189.89,407.31 L190.82,407.31 L196.04,407.28 L197.74,407.28 L201.26,407.25 L205.58,407.22 L206.47,407.21 L211.69,407.17 L213.43,407.15 L216.91,407.11 L221.28,407.05 L222.12,407.04 L227.34,406.95 L229.12,406.92 L232.56,406.85 L236.97,406.75 L237.78,406.73 L242.99,406.58 L244.81,406.53 L248.21,406.41 L252.66,406.24 L253.43,406.21 L258.65,405.98 L260.50,405.89 L263.86,405.71 L268.35,405.45 L269.08,405.40 L274.30,405.05 L276.19,404.91 L279.51,404.64 L284.04,404.26 L284.73,404.19 L289.95,403.69 L291.88,403.48 L295.17,403.12 L299.73,402.58 L300.38,402.50 L305.60,401.82 L307.57,401.55 L310.82,401.08 L315.42,400.38 L316.03,400.28 L321.25,399.42 L323.26,399.08 L326.47,398.51 L331.11,397.66 L331.69,397.55 L336.90,396.54 L338.95,396.13 L342.12,395.50 L346.79,394.53 L347.34,394.42 L352.55,393.33 L354.64,392.88 L357.77,392.22 L362.49,391.23 L362.99,391.12 L368.21,390.03 L370.33,389.60 L373.42,388.98 L378.18,388.05 L378.64,387.96 L383.86,387.00 L386.02,386.62 L389.08,386.11 L393.87,385.36 L394.29,385.30 L399.51,384.58 L401.71,384.31 L404.73,383.97 L409.56,383.51 L409.94,383.48 L415.16,383.10 L417.40,382.98 L420.38,382.86 L425.25,382.75 L425.60,382.75 L427.33,382.74 L430.81,382.77 L433.09,382.82 L436.03,382.93 L440.94,383.19 L441.25,383.21 L446.46,383.63 L448.78,383.85 L451.68,384.16 L456.63,384.77 L456.90,384.81 L462.12,385.56 L464.47,385.93 L467.33,386.40 L472.32,387.27 L472.55,387.31 L477.77,388.29 L480.16,388.76 L482.98,389.32 L488.01,390.35 L488.20,390.39 L493.42,391.49 L495.85,392.00 L498.64,392.59 L503.70,393.66 L503.85,393.69 L509.07,394.78 L511.54,395.29 L514.29,395.85 L519.39,396.86 L519.50,396.88 L524.72,397.87 L527.23,398.34 L529.94,398.82 L535.08,399.70 L535.16,399.72 L540.37,400.55 L542.92,400.94 L545.59,401.33 L550.77,402.05 L550.81,402.06 L556.02,402.72 L558.61,403.02 L561.24,403.32 L566.46,403.86 L571.68,404.35 L574.31,404.57 L576.89,404.78 L582.11,405.17 L582.15,405.17 L587.33,405.51 L590.00,405.66 L592.55,405.80 L597.76,406.06 L597.84,406.06 L602.98,406.28 L605.69,406.39 L608.20,406.47 L613.41,406.63 L613.53,406.64 L618.63,406.77 L621.38,406.84 L623.85,406.89 L629.07,406.98 L629.22,406.99 L634.28,407.06 L637.07,407.10 L639.50,407.13 L644.72,407.18 L644.91,407.19 L649.93,407.23 L652.76,407.25 L655.15,407.26 L655.15,409.40 L65.61,409.40 Z" fill="#0000ff" stroke="#0000ff" stroke-width="1.3" stroke-linejoin="round"/>
</g>
<g stroke="#000" stroke-width="1.4" fill="none" stroke-linecap="butt">
<rect x="83.00" y="56.90" width="556.50" height="350.50"/>
</g>
<g stroke="#000" stroke-width="1.2" fill="none">
<line x1="117.78" y1="407.40" x2="117.78" y2="397.90"/>
<line x1="152.56" y1="407.40" x2="152.56" y2="402.70"/>
<line x1="187.34" y1="407.40" x2="187.34" y2="397.90"/>
<line x1="222.12" y1="407.40" x2="222.12" y2="402.70"/>
<line x1="256.91" y1="407.40" x2="256.91" y2="397.90"/>
<line x1="291.69" y1="407.40" x2="291.69" y2="402.70"/>
<line x1="326.47" y1="407.40" x2="326.47" y2="397.90"/>
<line x1="361.25" y1="407.40" x2="361.25" y2="402.70"/>
<line x1="396.03" y1="407.40" x2="396.03" y2="397.90"/>
<line x1="430.81" y1="407.40" x2="430.81" y2="402.70"/>
<line x1="465.59" y1="407.40" x2="465.59" y2="397.90"/>
<line x1="500.38" y1="407.40" x2="500.38" y2="402.70"/>
<line x1="535.16" y1="407.40" x2="535.16" y2="397.90"/>
<line x1="569.94" y1="407.40" x2="569.94" y2="402.70"/>
<line x1="604.72" y1="407.40" x2="604.72" y2="397.90"/>
<line x1="83.00" y1="394.88" x2="87.70" y2="394.88"/>
<line x1="639.50" y1="394.88" x2="634.80" y2="394.88"/>
<line x1="83.00" y1="382.36" x2="87.70" y2="382.36"/>
<line x1="639.50" y1="382.36" x2="634.80" y2="382.36"/>
<line x1="83.00" y1="369.85" x2="87.70" y2="369.85"/>
<line x1="639.50" y1="369.85" x2="634.80" y2="369.85"/>
<line x1="83.00" y1="357.33" x2="87.70" y2="357.33"/>
<line x1="639.50" y1="357.33" x2="634.80" y2="357.33"/>
<line x1="83.00" y1="344.81" x2="92.50" y2="344.81"/>
<line x1="639.50" y1="344.81" x2="630.00" y2="344.81"/>
<line x1="83.00" y1="332.29" x2="87.70" y2="332.29"/>
<line x1="639.50" y1="332.29" x2="634.80" y2="332.29"/>
<line x1="83.00" y1="319.77" x2="87.70" y2="319.77"/>
<line x1="639.50" y1="319.77" x2="634.80" y2="319.77"/>
<line x1="83.00" y1="307.26" x2="87.70" y2="307.26"/>
<line x1="639.50" y1="307.26" x2="634.80" y2="307.26"/>
<line x1="83.00" y1="294.74" x2="87.70" y2="294.74"/>
<line x1="639.50" y1="294.74" x2="634.80" y2="294.74"/>
<line x1="83.00" y1="282.22" x2="92.50" y2="282.22"/>
<line x1="639.50" y1="282.22" x2="630.00" y2="282.22"/>
<line x1="83.00" y1="269.70" x2="87.70" y2="269.70"/>
<line x1="639.50" y1="269.70" x2="634.80" y2="269.70"/>
<line x1="83.00" y1="257.19" x2="87.70" y2="257.19"/>
<line x1="639.50" y1="257.19" x2="634.80" y2="257.19"/>
<line x1="83.00" y1="244.67" x2="87.70" y2="244.67"/>
<line x1="639.50" y1="244.67" x2="634.80" y2="244.67"/>
<line x1="83.00" y1="232.15" x2="87.70" y2="232.15"/>
<line x1="639.50" y1="232.15" x2="634.80" y2="232.15"/>
<line x1="83.00" y1="219.63" x2="92.50" y2="219.63"/>
<line x1="639.50" y1="219.63" x2="630.00" y2="219.63"/>
<line x1="83.00" y1="207.11" x2="87.70" y2="207.11"/>
<line x1="639.50" y1="207.11" x2="634.80" y2="207.11"/>
<line x1="83.00" y1="194.60" x2="87.70" y2="194.60"/>
<line x1="639.50" y1="194.60" x2="634.80" y2="194.60"/>
<line x1="83.00" y1="182.08" x2="87.70" y2="182.08"/>
<line x1="639.50" y1="182.08" x2="634.80" y2="182.08"/>
<line x1="83.00" y1="169.56" x2="87.70" y2="169.56"/>
<line x1="639.50" y1="169.56" x2="634.80" y2="169.56"/>
<line x1="83.00" y1="157.04" x2="92.50" y2="157.04"/>
<line x1="639.50" y1="157.04" x2="630.00" y2="157.04"/>
<line x1="83.00" y1="144.52" x2="87.70" y2="144.52"/>
<line x1="639.50" y1="144.52" x2="634.80" y2="144.52"/>
<line x1="83.00" y1="132.01" x2="87.70" y2="132.01"/>
<line x1="639.50" y1="132.01" x2="634.80" y2="132.01"/>
<line x1="83.00" y1="119.49" x2="87.70" y2="119.49"/>
<line x1="639.50" y1="119.49" x2="634.80" y2="119.49"/>
<line x1="83.00" y1="106.97" x2="87.70" y2="106.97"/>
<line x1="639.50" y1="106.97" x2="634.80" y2="106.97"/>
<line x1="83.00" y1="94.45" x2="92.50" y2="94.45"/>
<line x1="639.50" y1="94.45" x2="630.00" y2="94.45"/>
<line x1="83.00" y1="81.94" x2="87.70" y2="81.94"/>
<line x1="639.50" y1="81.94" x2="634.80" y2="81.94"/>
<line x1="83.00" y1="69.42" x2="87.70" y2="69.42"/>
<line x1="639.50" y1="69.42" x2="634.80" y2="69.42"/>
<line x1="187.50" y1="56.90" x2="187.50" y2="68.20"/>
<line x1="269.30" y1="56.90" x2="269.30" y2="68.20"/>
<line x1="358.00" y1="56.90" x2="358.00" y2="68.20"/>
<line x1="451.70" y1="56.90" x2="451.70" y2="68.20"/>
<line x1="545.10" y1="56.90" x2="545.10" y2="68.20"/>
<line x1="585.80" y1="56.90" x2="585.80" y2="68.20"/>
<line x1="621.50" y1="56.90" x2="621.50" y2="68.20"/>
</g>
<g font-family='"Liberation Serif", serif'>
<text x="316.30" y="26.70" font-size="22.80" fill="#000" textLength="89.50" lengthAdjust="spacingAndGlyphs" >Redshift</text>
<text x="171.40" y="48.60" font-size="19.60" fill="#000" textLength="32.20" lengthAdjust="spacingAndGlyphs" >0.0</text>
<text x="253.60" y="48.60" font-size="19.60" fill="#000" textLength="31.30" lengthAdjust="spacingAndGlyphs" >0.2</text>
<text x="342.40" y="48.60" font-size="19.60" fill="#000" textLength="31.70" lengthAdjust="spacingAndGlyphs" >0.5</text>
<text x="446.60" y="48.60" font-size="19.60" fill="#000" textLength="11.00" lengthAdjust="spacingAndGlyphs" >1</text>
<text x="538.40" y="48.60" font-size="19.60" fill="#000" textLength="13.20" lengthAdjust="spacingAndGlyphs" >2</text>
<text x="579.60" y="48.60" font-size="19.60" fill="#000" textLength="12.80" lengthAdjust="spacingAndGlyphs" >3</text>
<text x="614.80" y="48.60" font-size="19.60" fill="#000" textLength="13.20" lengthAdjust="spacingAndGlyphs" >5</text>
<text x="104.00" y="429.00" font-size="19.60" fill="#000" textLength="14.80" lengthAdjust="spacingAndGlyphs" >−</text>
<text x="119.80" y="429.00" font-size="19.60" fill="#000" textLength="13.00" lengthAdjust="spacingAndGlyphs" >2</text>
<text x="181.20" y="429.00" font-size="19.60" fill="#000" textLength="12.80" lengthAdjust="spacingAndGlyphs" >0</text>
<text x="250.60" y="429.00" font-size="19.60" fill="#000" textLength="12.80" lengthAdjust="spacingAndGlyphs" >2</text>
<text x="320.10" y="429.00" font-size="19.60" fill="#000" textLength="12.80" lengthAdjust="spacingAndGlyphs" >4</text>
<text x="389.60" y="429.00" font-size="19.60" fill="#000" textLength="13.00" lengthAdjust="spacingAndGlyphs" >6</text>
<text x="459.20" y="429.00" font-size="19.60" fill="#000" textLength="13.00" lengthAdjust="spacingAndGlyphs" >8</text>
<text x="524.90" y="429.00" font-size="19.60" fill="#000" textLength="23.10" lengthAdjust="spacingAndGlyphs" >10</text>
<text x="594.90" y="429.00" font-size="19.60" fill="#000" textLength="23.00" lengthAdjust="spacingAndGlyphs" >12</text>
<text x="39.00" y="101.45" font-size="19.60" fill="#000" textLength="32.20" lengthAdjust="spacingAndGlyphs" >2.5</text>
<text x="58.60" y="164.04" font-size="19.60" fill="#000" textLength="12.60" lengthAdjust="spacingAndGlyphs" >2</text>
<text x="41.00" y="226.63" font-size="19.60" fill="#000" textLength="30.20" lengthAdjust="spacingAndGlyphs" >1.5</text>
<text x="60.00" y="289.22" font-size="19.60" fill="#000" textLength="10.00" lengthAdjust="spacingAndGlyphs" >1</text>
<text x="39.00" y="351.81" font-size="19.60" fill="#000" textLength="32.20" lengthAdjust="spacingAndGlyphs" >0.5</text>
<text x="245.30" y="453.50" font-size="22.80" fill="#000" textLength="102.00" lengthAdjust="spacingAndGlyphs" >Lookback</text>
<text x="358.60" y="453.50" font-size="22.80" fill="#000" textLength="52.80" lengthAdjust="spacingAndGlyphs" >Time</text>
<text x="423.20" y="453.50" font-size="22.80" fill="#000" textLength="54.40" lengthAdjust="spacingAndGlyphs" >(Gyr)</text>
<text x="128.20" y="98.70" font-size="18.00" fill="#000" textLength="121.20" lengthAdjust="spacingAndGlyphs" stroke="#000" stroke-width="0.12" >Rejuvenation</text>
<text x="158.80" y="125.50" font-size="18.00" fill="#000" textLength="46.40" lengthAdjust="spacingAndGlyphs" stroke="#000" stroke-width="0.12" >mass</text>
<text x="215.80" y="125.50" font-size="18.00" fill="#000" textLength="33.60" lengthAdjust="spacingAndGlyphs" stroke="#000" stroke-width="0.12" >and</text>
<text x="129.20" y="144.30" font-size="18.00" fill="#000" textLength="120.20" lengthAdjust="spacingAndGlyphs" stroke="#000" stroke-width="0.12" >environment</text>
<text x="190.80" y="162.90" font-size="18.00" fill="#000" textLength="58.60" lengthAdjust="spacingAndGlyphs" stroke="#000" stroke-width="0.12" >driven</text>
<text x="299.30" y="98.80" font-size="18.00" fill="#000" textLength="97.20" lengthAdjust="spacingAndGlyphs" stroke="#000" stroke-width="0.12" >Formation</text>
<text x="406.60" y="98.80" font-size="18.00" fill="#000" textLength="54.20" lengthAdjust="spacingAndGlyphs" stroke="#000" stroke-width="0.12" >phase</text>
<text x="299.30" y="123.70" font-size="18.00" fill="#000" textLength="35.40" lengthAdjust="spacingAndGlyphs" stroke="#000" stroke-width="0.12" >self</text>
<text x="334.60" y="123.70" font-size="18.00" fill="#000" textLength="11.20" lengthAdjust="spacingAndGlyphs" stroke="#000" stroke-width="0.12" >−</text>
<text x="346.40" y="123.70" font-size="18.00" fill="#000" textLength="89.60" lengthAdjust="spacingAndGlyphs" stroke="#000" stroke-width="0.12" >regulated</text>
<text x="394.80" y="160.40" font-size="18.00" fill="#ff0000" textLength="26.80" lengthAdjust="spacingAndGlyphs" stroke="#ff0000" stroke-width="0.10" >log</text>
<text x="428.60" y="160.40" font-size="17.50" fill="#ff0000" textLength="15.00" lengthAdjust="spacingAndGlyphs" font-style="italic" stroke="#ff0000" stroke-width="0.10" >M</text>
<text x="444.60" y="165.60" font-size="11.00" fill="#ff0000" textLength="20.80" lengthAdjust="spacingAndGlyphs" font-weight="bold" >dyn</text>
<line x1="466.6" y1="165.2" x2="475.8" y2="147.4" stroke="#ff0000" stroke-width="1.3"/>
<text x="476.00" y="160.40" font-size="17.50" fill="#ff0000" textLength="15.00" lengthAdjust="spacingAndGlyphs" font-style="italic" stroke="#ff0000" stroke-width="0.10" >M</text>
<circle cx="495.5" cy="162.5" r="3.4" fill="none" stroke="#ff0000" stroke-width="1.2"/>
<circle cx="495.5" cy="162.5" r="1.0" fill="#ff0000"/>
<path d="M509.8,156.6 C511.5,151.5 514.5,152.3 516,154.8 C517.6,157.5 520.4,158.3 522,153.4" fill="none" stroke="#ff0000" stroke-width="1.3"/>
<text x="532.80" y="160.60" font-size="17.80" fill="#ff0000" textLength="37.60" lengthAdjust="spacingAndGlyphs" stroke="#ff0000" stroke-width="0.10" >12.0</text>
<text x="524.00" y="244.00" font-size="17.80" fill="#ff4500" textLength="37.80" lengthAdjust="spacingAndGlyphs" stroke="#ff4500" stroke-width="0.10" >11.6</text>
<text x="457.80" y="338.70" font-size="17.80" fill="#00ff00" textLength="37.80" lengthAdjust="spacingAndGlyphs" stroke="#00ff00" stroke-width="0.10" >11.0</text>
<text x="301.40" y="382.30" font-size="17.80" fill="#0000ff" textLength="37.60" lengthAdjust="spacingAndGlyphs" stroke="#0000ff" stroke-width="0.10" >10.5</text>
<g transform="translate(22,330.2) rotate(-90)">
<text x="-0.50" y="0.00" font-size="22.00" fill="#000" textLength="11.20" lengthAdjust="spacingAndGlyphs" font-style="italic" >d</text>
<text x="11.80" y="0.00" font-size="22.00" fill="#000" textLength="17.20" lengthAdjust="spacingAndGlyphs" font-style="italic" >M</text>
<path d="M32.40,-2.55 L32.40,1.95 M30.45,-1.42 L34.35,0.82 M34.35,-1.42 L30.45,0.82" stroke="#000" stroke-width="1.15" fill="none" stroke-linecap="round"/>
<line x1="37.8" y1="3.7" x2="50.0" y2="-17.3" stroke="#000" stroke-width="1.3"/>
<text x="50.00" y="0.00" font-size="22.00" fill="#000" textLength="11.20" lengthAdjust="spacingAndGlyphs" font-style="italic" >d</text>
<text x="62.80" y="0.00" font-size="22.00" fill="#000" textLength="7.80" lengthAdjust="spacingAndGlyphs" font-style="italic" >t</text>
<line x1="75.3" y1="3.7" x2="87.5" y2="-17.3" stroke="#000" stroke-width="1.3"/>
<text x="86.20" y="0.00" font-size="22.00" fill="#000" textLength="17.20" lengthAdjust="spacingAndGlyphs" font-style="italic" >M</text>
<path d="M106.90,-2.55 L106.90,1.95 M104.95,-1.42 L108.85,0.82 M108.85,-1.42 L104.95,0.82" stroke="#000" stroke-width="1.15" fill="none" stroke-linecap="round"/>
<text x="122.40" y="-0.40" font-size="23.50" fill="#000" textLength="7.60" lengthAdjust="spacingAndGlyphs" >(</text>
<text x="131.80" y="0.00" font-size="22.00" fill="#000" textLength="40.00" lengthAdjust="spacingAndGlyphs" >Gyr</text>
<text x="171.40" y="-8.40" font-size="14.00" fill="#000" textLength="7.00" lengthAdjust="spacingAndGlyphs" >−</text>
<text x="179.00" y="-5.80" font-size="13.40" fill="#000" textLength="6.20" lengthAdjust="spacingAndGlyphs" >1</text>
<text x="187.00" y="-0.40" font-size="23.50" fill="#000" textLength="7.60" lengthAdjust="spacingAndGlyphs" >)</text>
</g>
</g>
</svg>
</body></html>
